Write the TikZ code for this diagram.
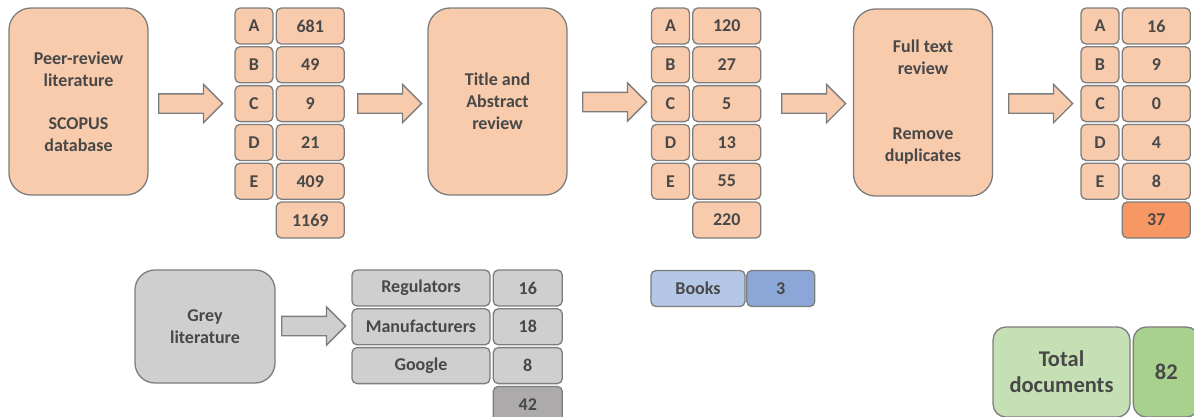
\documentclass[tikz,border=0pt]{standalone}
\usepackage{fontspec}
\setmainfont{Carlito}
\usepackage{tikz}
\usetikzlibrary{positioning,shapes.arrows}
\definecolor{peach}{RGB}{248,203,173}
\definecolor{peachdark}{RGB}{247,152,100}
\definecolor{greylit}{RGB}{208,207,207}
\definecolor{greydark}{RGB}{172,170,170}
\definecolor{bluelight}{RGB}{180,199,231}
\definecolor{bluedark}{RGB}{140,166,216}
\definecolor{greenlight}{RGB}{197,224,180}
\definecolor{greendark}{RGB}{169,209,142}
\definecolor{edgegray}{RGB}{125,125,125}
\definecolor{txtgray}{RGB}{72,72,72}
\tikzset{
    bigbox/.style={
           rectangle,
           rounded corners=22pt,
           draw=edgegray, line width=1.3pt,
           fill=peach,
           minimum width=139pt,
           minimum height=187pt,
           text=txtgray,
           align=center,
           font=\bfseries\fontsize{18}{22}\selectfont,
           },
    cell/.style={
           rectangle,
           rounded corners=5pt,
           draw=edgegray, line width=1.3pt,
           fill=peach,
           minimum height=36pt,
           inner sep=0pt,
           text=txtgray,
           font=\bfseries\fontsize{18}{22}\selectfont,
           },
    letter/.style={cell, minimum width=38pt},
    count/.style={cell, minimum width=68pt},
    blockarrow/.style={
           single arrow,
           draw=edgegray, line width=1.3pt,
           fill=peach,
           minimum height=64pt,
           minimum width=37pt,
           single arrow head extend=9.5pt,
           inner xsep=0pt, inner ysep=9pt,
           anchor=west,
           },
}

\begin{document}
\begin{tikzpicture}[x=1pt,y=-1pt]
 \path[use as bounding box, clip] (0,0) rectangle (1194,416);
 % peer-review branch
 \node[bigbox] (peer) at (78.5,101.5)
 {Peer-review\\literature\\[21pt]SCOPUS\\database};
 \node[blockarrow] (arA) at (158,103.5) {};

 \node[letter] (t1a) at (254,26) {A};
 \node[letter, below=1.5pt of t1a] (t1b) {B};
 \node[letter, below=1.5pt of t1b] (t1c) {C};
 \node[letter, below=1.5pt of t1c] (t1d) {D};
 \node[letter, below=1.5pt of t1d] (t1e) {E};
 \node[count, right=2pt of t1a] (n1a) {681};
 \node[count, below=1.5pt of n1a] (n1b) {49};
 \node[count, below=1.5pt of n1b] (n1c) {9};
 \node[count, below=1.5pt of n1c] (n1d) {21};
 \node[count, below=1.5pt of n1d] (n1e) {409};
 \node[count, below=1.5pt of n1e] (n1sum) {1169};
 \node[blockarrow] (arB) at (357,103.5) {};

 \node[bigbox] (title) at (497.5,101.5)
 {Title and\\Abstract\\review};
 \node[blockarrow] (arC) at (582,102) {};

 \node[letter] (t2a) at (670.5,26) {A};
 \node[letter, below=1.5pt of t2a] (t2b) {B};
 \node[letter, below=1.5pt of t2b] (t2c) {C};
 \node[letter, below=1.5pt of t2c] (t2d) {D};
 \node[letter, below=1.5pt of t2d] (t2e) {E};
 \node[count, right=2pt of t2a] (n2a) {120};
 \node[count, below=1.5pt of n2a] (n2b) {27};
 \node[count, below=1.5pt of n2b] (n2c) {5};
 \node[count, below=1.5pt of n2c] (n2d) {13};
 \node[count, below=1.5pt of n2d] (n2e) {55};
 \node[count, below=1.5pt of n2e] (n2sum) {220};
 \node[blockarrow] (arD) at (781,103.5) {};

 \node[bigbox] (full) at (923,102.5)
 {Full text\\review\\[43pt]Remove\\duplicates};
 \node[blockarrow] (arE) at (1008,103.5) {};

 \node[letter] (t3a) at (1100,26) {A};
 \node[letter, below=1.5pt of t3a] (t3b) {B};
 \node[letter, below=1.5pt of t3b] (t3c) {C};
 \node[letter, below=1.5pt of t3c] (t3d) {D};
 \node[letter, below=1.5pt of t3d] (t3e) {E};
 \node[count, right=2pt of t3a] (n3a) {16};
 \node[count, below=1.5pt of n3a] (n3b) {9};
 \node[count, below=1.5pt of n3b] (n3c) {0};
 \node[count, below=1.5pt of n3c] (n3d) {4};
 \node[count, below=1.5pt of n3d] (n3e) {8};
 \node[count, below=1.5pt of n3e, fill=peachdark] (n3sum) {37};

 % grey literature branch
 \node[bigbox, fill=greylit, rounded corners=20pt,
 minimum width=140pt, minimum height=113pt] (grey) at (205,326.5)
 {Grey\\literature};
 \node[blockarrow, fill=greylit] (arG) at (281,326) {};
 \node[cell, fill=greylit, minimum width=138pt] (gsrc1) at (421,288) {Regulators};
 \node[cell, fill=greylit, minimum width=138pt, below=1.5pt of gsrc1] (gsrc2) {Manufacturers};
 \node[cell, fill=greylit, minimum width=138pt, below=1.5pt of gsrc2] (gsrc3) {Google};
 \node[cell, fill=greylit, minimum width=69pt, right=2pt of gsrc1] (gn1) {16};
 \node[cell, fill=greylit, minimum width=69pt, below=1.5pt of gn1] (gn2) {18};
 \node[cell, fill=greylit, minimum width=69pt, below=1.5pt of gn2] (gn3) {8};
 \node[cell, fill=greydark, minimum width=69pt, below=1.5pt of gn3] (gnsum) {42};

 % books
 \node[cell, fill=bluelight, minimum width=94pt] (books) at (698,288.5) {Books};
 \node[cell, fill=bluedark, minimum width=68pt, right=0.5pt of books] (nbooks) {3};

 % total
 \node[bigbox, fill=greenlight, rounded corners=13pt,
 minimum width=137pt, minimum height=90pt,
 font=\bfseries\fontsize{22.5}{26}\selectfont] (total) at (1061.5,372)
 {Total\\documents};
 \node[bigbox, fill=greendark, rounded corners=13pt,
 minimum width=66pt, minimum height=90pt,
 font=\bfseries\fontsize{22.5}{26}\selectfont, right=2pt of total] (ntotal) {82};
\end{tikzpicture}
\end{document}
